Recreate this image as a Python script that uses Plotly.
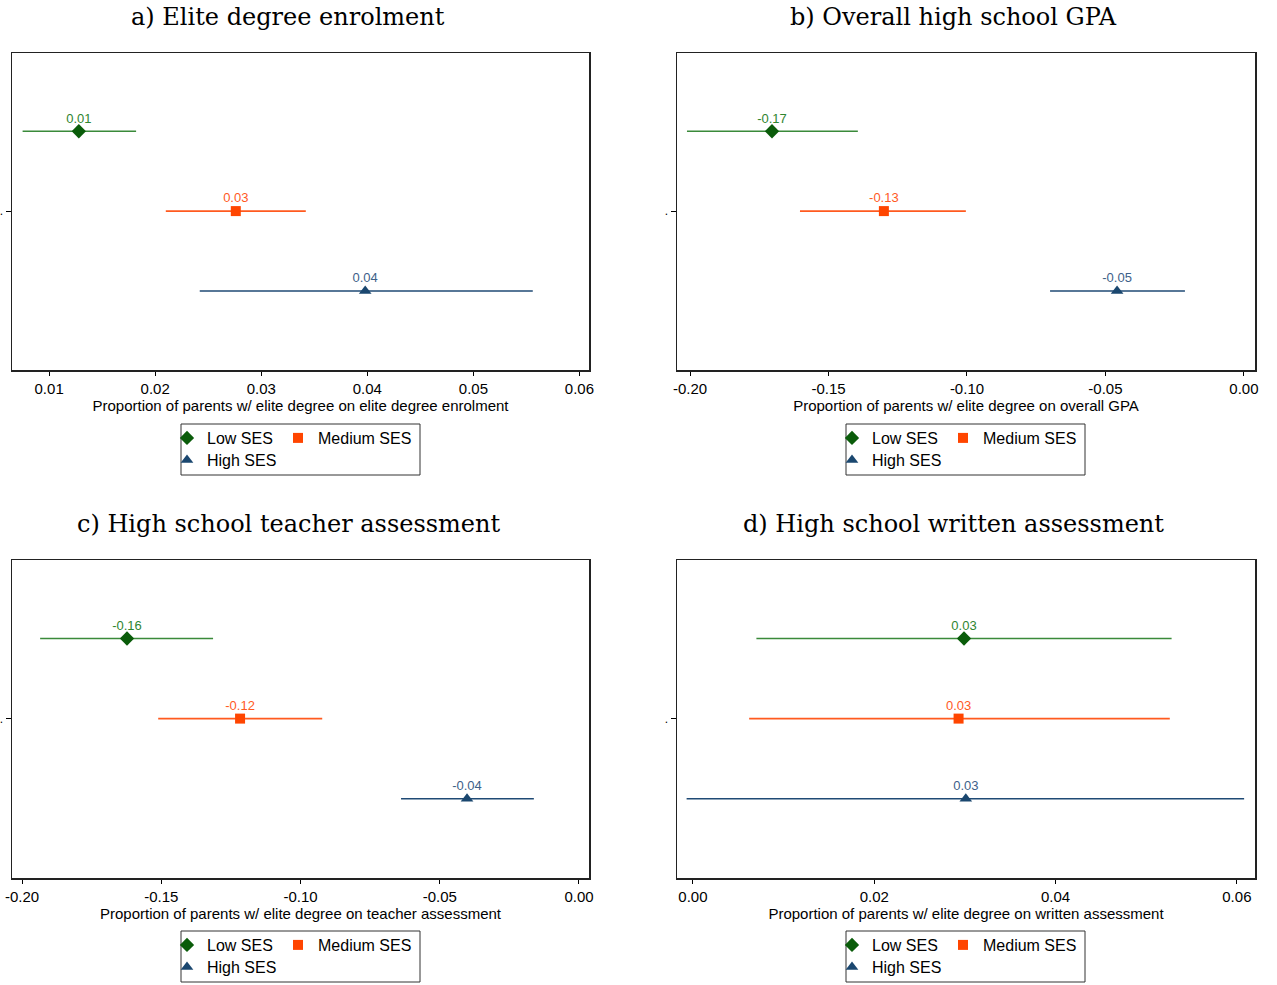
import plotly.graph_objects as go

W, H = 1277, 985

# ---------------- data ----------------
groups = ["Low SES", "Medium SES", "High SES"]
panel_titles = ["a) Elite degree enrolment", "b) Overall high school GPA",
                "c) High school teacher assessment", "d) High school written assessment"]
axis_titles = ["Proportion of parents w/ elite degree on elite degree enrolment",
               "Proportion of parents w/ elite degree on overall GPA",
               "Proportion of parents w/ elite degree on teacher assessment",
               "Proportion of parents w/ elite degree on written assessment"]

a_est = [0.0128, 0.0276, 0.0398]
a_lo = [0.0075, 0.0210, 0.0242]
a_hi = [0.0182, 0.0342, 0.0556]

b_est = [-0.1704, -0.1300, -0.0458]
b_lo = [-0.2011, -0.1603, -0.0700]
b_hi = [-0.1394, -0.1004, -0.0213]

c_est = [-0.1623, -0.1217, -0.0402]
c_lo = [-0.1935, -0.1511, -0.0639]
c_hi = [-0.1314, -0.0922, -0.0162]

d_est = [0.0299, 0.0293, 0.0301]
d_lo = [0.0070, 0.0062, -0.0007]
d_hi = [0.0528, 0.0526, 0.0608]

a_ticks = [0.01, 0.02, 0.03, 0.04, 0.05, 0.06]
a_ticklabels = ["0.01", "0.02", "0.03", "0.04", "0.05", "0.06"]
b_ticks = [-0.20, -0.15, -0.10, -0.05, 0.00]
b_ticklabels = ["-0.20", "-0.15", "-0.10", "-0.05", "0.00"]
c_ticks = [-0.20, -0.15, -0.10, -0.05, 0.00]
c_ticklabels = ["-0.20", "-0.15", "-0.10", "-0.05", "0.00"]
d_ticks = [0.00, 0.02, 0.04, 0.06]
d_ticklabels = ["0.00", "0.02", "0.04", "0.06"]

row_pos = [1, 2, 3]

# ---------------- styling ----------------
marker_colors = ["#0a5c0a", "#ff4500", "#1a476f"]
line_colors = ["#3a8a3a", "#ff5a1f", "#1f4a75"]
text_colors = ["#2f852f", "#ff5a1f", "#3d6189"]
symbols = ["diamond", "square", "triangle-up"]
msizes = [11, 10, 11]

panels = [
    dict(est=a_est, lo=a_lo, hi=a_hi, ticks=a_ticks, labels=a_ticklabels, xr=[0.0065, 0.0609]),
    dict(est=b_est, lo=b_lo, hi=b_hi, ticks=b_ticks, labels=b_ticklabels, xr=[-0.2047, 0.0040]),
    dict(est=c_est, lo=c_lo, hi=c_hi, ticks=c_ticks, labels=c_ticklabels, xr=[-0.2036, 0.0036]),
    dict(est=d_est, lo=d_lo, hi=d_hi, ticks=d_ticks, labels=d_ticklabels, xr=[-0.00176, 0.0620]),
]
# plot-area boxes in page pixels (left, right, top, bottom)
boxes = [(12, 589, 53, 370), (677, 1255, 53, 370), (12, 589, 560, 878), (677, 1255, 560, 878)]
title_pos = [(288, 17), (953, 17), (288, 524), (953, 524)]


def px(x):
    return x / W


def py(y):
    return 1 - y / H


fig = go.Figure()
layout = dict(width=W, height=H, margin=dict(l=0, r=0, t=0, b=0, autoexpand=False),
              paper_bgcolor="white", plot_bgcolor="white", showlegend=True,
              font=dict(family="Liberation Sans, Arial, sans-serif", color="black"))
annotations = []
shapes = []
leg_idx = 0

for i, p in enumerate(panels):
    n = i + 1
    xa = "x" if n == 1 else f"x{n}"
    ya = "y" if n == 1 else f"y{n}"
    l, r, t, b = boxes[i]
    bl = l + 169
    bt = t + 371
    for j, g in enumerate(groups):
        leg_idx += 1
        legname = "legend" if leg_idx == 1 else f"legend{leg_idx}"
        est = p["est"][j]
        fig.add_trace(go.Scatter(
            x=[est], y=[row_pos[j]], xaxis=xa, yaxis=ya, mode="markers", name=g,
            legend=legname,
            marker=dict(symbol=symbols[j], size=msizes[j], color=marker_colors[j]),
            error_x=dict(type="data", symmetric=False,
                         array=[p["hi"][j] - est], arrayminus=[est - p["lo"][j]],
                         color=line_colors[j], thickness=1.6, width=0),
            hoverinfo="skip"))
        fig.add_trace(go.Scatter(
            x=[est], y=[row_pos[j]], xaxis=xa, yaxis=ya, mode="markers+text",
            text=[f"{est:.2f}"], textposition="top center", showlegend=False,
            marker=dict(size=7, opacity=0),
            textfont=dict(size=13, color=text_colors[j]), cliponaxis=False,
            hoverinfo="skip"))
        if j == 0:
            lx, ly = bl - 14, bt + 14
        elif j == 1:
            lx, ly = bl + 97, bt + 14
        else:
            lx, ly = bl - 14, bt + 36
        layout[legname] = dict(x=px(lx), y=py(ly), xanchor="left", yanchor="middle",
                               orientation="h", bgcolor="rgba(0,0,0,0)", borderwidth=0,
                               font=dict(size=16, family="Liberation Sans, Arial, sans-serif"),
                               itemclick=False, itemdoubleclick=False)
    shapes.append(dict(type="rect", xref="paper", yref="paper",
                       x0=px(bl), x1=px(bl + 239), y0=py(bt + 51), y1=py(bt),
                       line=dict(color="#333", width=1)))
    layout[f"xaxis{'' if n == 1 else n}"] = dict(
        domain=[px(l), px(r)], anchor=ya, range=p["xr"], automargin=False,
        tickmode="array", tickvals=p["ticks"], ticktext=p["labels"],
        ticks="outside", ticklen=4, tickcolor="black", tickwidth=1,
        ticklabeloverflow="allow",
        showline=True, linecolor="#222", linewidth=1.5, mirror=True,
        showgrid=False, zeroline=False,
        tickfont=dict(size=15, color="black"),
        title=dict(text=axis_titles[i], font=dict(size=15, color="black"), standoff=1))
    layout[f"yaxis{'' if n == 1 else n}"] = dict(
        domain=[py(b), py(t)], anchor=xa, range=[3.99, 0.02], automargin=False,
        tickmode="array", tickvals=[2], ticktext=["."],
        ticks="outside", ticklen=5, tickcolor="black", tickwidth=1,
        ticklabeloverflow="allow",
        showline=True, linecolor="#222", linewidth=1.5, mirror=True,
        showgrid=False, zeroline=False,
        tickfont=dict(size=12, color="black"))
    tx, ty = title_pos[i]
    annotations.append(dict(text=panel_titles[i], x=px(tx), y=py(ty), xref="paper", yref="paper",
                            xanchor="center", yanchor="middle", showarrow=False,
                            font=dict(size=24, family="DejaVu Serif, serif", color="black")))

layout["annotations"] = annotations
layout["shapes"] = shapes
fig.update_layout(**layout)
fig.write_html("out.html", config={"displayModeBar": False, "staticPlot": True},
               post_script="document.body.style.margin='0';document.body.style.overflow='hidden';")
